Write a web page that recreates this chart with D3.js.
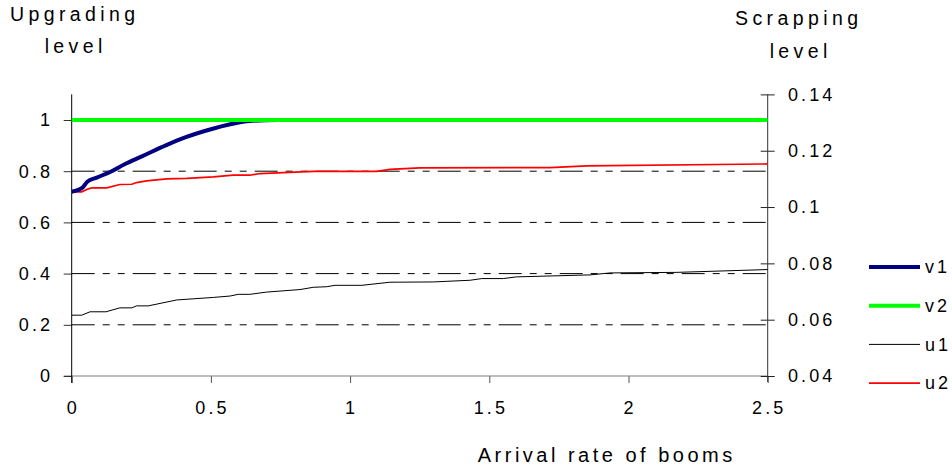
<!DOCTYPE html>
<html><head><meta charset="utf-8">
<script src="https://cdn.jsdelivr.net/npm/d3@7/dist/d3.min.js"></script>
<style>
html,body{margin:0;padding:0;background:#fff;}
text{font-family:"Liberation Sans",Arial,sans-serif;fill:#000;}
</style></head>
<body><svg id="c" width="952" height="470"></svg>
<script>
// ---- data ----
const xTicks = [0, 0.5, 1, 1.5, 2, 2.5];
const xTickLabels = ["0", "0.5", "1", "1.5", "2", "2.5"];
const leftTicks = [0, 0.2, 0.4, 0.6, 0.8, 1];
const leftTickLabels = ["0", "0.2", "0.4", "0.6", "0.8", "1"];
const rightTicks = [0.04, 0.06, 0.08, 0.1, 0.12, 0.14];
const rightTickLabels = ["0.04", "0.06", "0.08", "0.1", "0.12", "0.14"];
const gridValues = [0.2, 0.4, 0.6, 0.8];

const v1X = [0, 0.04, 0.056, 0.09, 0.14, 0.19, 0.25, 0.34, 0.41, 0.51, 0.6, 0.65, 0.74, 1.0, 1.5, 2.0, 2.5];
const v1Y = [0.72, 0.737, 0.759, 0.775, 0.798, 0.827, 0.857, 0.902, 0.933, 0.967, 0.99, 0.997, 1.0, 1.0, 1.0, 1.0, 1.0];
const v2X = [0, 0.5, 1, 1.5, 2, 2.5];
const v2Y = [1, 1, 1, 1, 1, 1];
const u1X = [0, 0.036, 0.066, 0.123, 0.173, 0.216, 0.233, 0.275, 0.377, 0.509, 0.569, 0.598, 0.64, 0.7, 0.82, 0.868, 0.916, 0.946, 1.042, 1.143, 1.299, 1.431, 1.473, 1.55, 1.598, 1.862, 1.934, 2.173, 2.5];
const u1Y = [0.0616, 0.0616, 0.0628, 0.0628, 0.0642, 0.0642, 0.0649, 0.0649, 0.067, 0.0679, 0.0684, 0.069, 0.069, 0.0698, 0.0707, 0.0715, 0.0717, 0.0722, 0.0722, 0.0733, 0.0734, 0.074, 0.0746, 0.0746, 0.0752, 0.0759, 0.0766, 0.0768, 0.0778];
const u2X = [0, 0.036, 0.056, 0.072, 0.126, 0.173, 0.216, 0.233, 0.269, 0.341, 0.413, 0.509, 0.58, 0.64, 0.676, 0.76, 0.868, 1.096, 1.143, 1.251, 1.718, 1.85, 2.5];
const u2Y = [0.1054, 0.1054, 0.1063, 0.1068, 0.1068, 0.108, 0.1081, 0.1087, 0.1093, 0.11, 0.1102, 0.1107, 0.1113, 0.1113, 0.1119, 0.1122, 0.1127, 0.1127, 0.1134, 0.1139, 0.114, 0.1146, 0.1153];

const seriesNames = ["v1", "v2", "u1", "u2"];

// ---- layout ----
const svg = d3.select("#c");
const X0 = 71.7, X1 = 767.7, Y0 = 376, Y1 = 94.4;
const x = d3.scaleLinear().domain([0, 2.5]).range([X0, X1]);
const yL = d3.scaleLinear().domain([0, 1.1]).range([Y0, Y1]);
const yR = d3.scaleLinear().domain([0.04, 0.14]).range([Y0, Y1]);
const LS = 3.1, FS = "18px";

// gridlines
svg.append("g").selectAll("line").data(gridValues).join("line")
  .attr("x1", X0).attr("x2", X1)
  .attr("y1", d => yL(d)).attr("y2", d => yL(d))
  .attr("stroke", "#000").attr("stroke-width", 1)
  .attr("stroke-dasharray", "23,8,7,8,7,8");

// x axis
const gx = svg.append("g").attr("transform", `translate(0,${Y0})`)
  .call(d3.axisBottom(x).tickValues(xTicks).tickSize(7).tickFormat(""));
gx.select(".domain").remove();
gx.selectAll(".tick line").attr("stroke", "#555");
svg.append("line").attr("x1", X0 - 8).attr("x2", X1).attr("y1", Y0).attr("y2", Y0)
  .attr("stroke", "#808080").attr("stroke-width", 1.2);
svg.append("g").selectAll("text").data(xTicks).join("text")
  .attr("x", (d) => x(d) + LS / 2).attr("y", 414)
  .attr("text-anchor", "middle").style("font-size", FS).style("letter-spacing", LS + "px")
  .text((d, i) => xTickLabels[i]);

// left axis
const gl = svg.append("g").attr("transform", `translate(${X0},0)`)
  .call(d3.axisLeft(yL).tickValues(leftTicks).tickSize(8).tickFormat(""));
gl.select(".domain").remove();
svg.append("line").attr("x1", X0).attr("x2", X0).attr("y1", Y1).attr("y2", Y0 + 7)
  .attr("stroke", "#000").attr("stroke-width", 1);
gl.selectAll(".tick line").attr("stroke", "#333");
svg.append("g").selectAll("text").data(leftTicks).join("text")
  .attr("x", 50 + LS).attr("y", d => yL(d)).attr("dy", "0.35em")
  .attr("text-anchor", "end").style("font-size", FS).style("letter-spacing", LS + "px")
  .text((d, i) => leftTickLabels[i]);

// right axis
const gr = svg.append("g").attr("transform", `translate(${X1},0)`)
  .call(d3.axisRight(yR).tickValues(rightTicks).tickSize(7).tickFormat(""));
gr.select(".domain").remove();
gr.selectAll(".tick line").attr("x1", -7).attr("stroke", "#222");
svg.append("line").attr("x1", X1).attr("x2", X1).attr("y1", Y1).attr("y2", Y0 + 6)
  .attr("stroke", "#333").attr("stroke-width", 1);
svg.append("g").selectAll("text").data(rightTicks).join("text")
  .attr("x", 788).attr("y", d => yR(d)).attr("dy", "0.35em")
  .attr("text-anchor", "start").style("font-size", FS).style("letter-spacing", LS + "px")
  .text((d, i) => rightTickLabels[i]);

// lines
const lineL = d3.line().x(d => x(d[0])).y(d => yL(d[1])).curve(d3.curveMonotoneX);
const lineR = d3.line().x(d => x(d[0])).y(d => yR(d[1]));
const zip = (a, b) => a.map((v, i) => [v, b[i]]);

svg.append("path").datum(zip(u1X, u1Y)).attr("d", lineR)
  .attr("fill", "none").attr("stroke", "#000").attr("stroke-width", 1);
svg.append("path").datum(zip(u2X, u2Y)).attr("d", lineR)
  .attr("fill", "none").attr("stroke", "#ff0000").attr("stroke-width", 1.7);
svg.append("path").datum(zip(v1X, v1Y)).attr("d", lineL)
  .attr("fill", "none").attr("stroke", "#000080").attr("stroke-width", 4).attr("stroke-linejoin", "round");
svg.append("path").datum(zip(v2X, v2Y)).attr("d", lineL)
  .attr("fill", "none").attr("stroke", "#00ff00").attr("stroke-width", 4);

// legend
const legColors = ["#000080", "#00ff00", "#000", "#ff0000"];
const legWidths = [4, 4, 1, 1.7];
const lg = svg.append("g");
seriesNames.forEach((n, i) => {
  const yy = 267 + i * 38.7;
  lg.append("line").attr("x1", 869).attr("x2", 920).attr("y1", yy).attr("y2", yy)
    .attr("stroke", legColors[i]).attr("stroke-width", legWidths[i]);
  lg.append("text").attr("x", 925).attr("y", yy).attr("dy", "0.35em")
    .style("font-size", FS).style("letter-spacing", LS + "px").text(n);
});

// titles
const title = (t, cx, by, fs, ls) => svg.append("text").attr("x", cx + ls / 2).attr("y", by)
  .attr("text-anchor", "middle").style("font-size", fs + "px").style("letter-spacing", ls + "px").text(t);
title("Upgrading", 72.5, 21, 19.5, 4.4);
title("level", 73.5, 53, 19.5, 4.4);
title("Scrapping", 796.5, 25, 19.5, 4.4);
title("level", 798.5, 58, 19.5, 4.4);
title("Arrival rate of booms", 605, 462, 20, 3.5);
</script></body></html>
